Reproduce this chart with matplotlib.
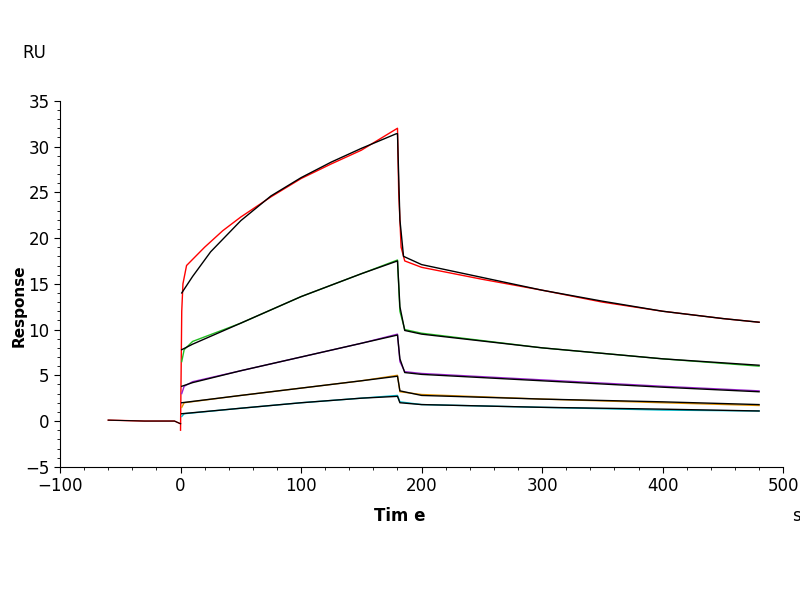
import matplotlib
matplotlib.use("Agg")
import matplotlib.pyplot as plt
from matplotlib.ticker import MultipleLocator

base_t = [-60, -30, -5, 0]
base_v = [0.1, 0.0, 0.0, -0.3]

red_t = [0, 1, 2, 5, 20, 35, 50, 75, 100, 125, 150, 180, 181, 183, 186, 200, 250, 300, 350, 400, 450, 480]
red_v = [-1.0, 12, 15, 17, 19, 20.8, 22.3, 24.5, 26.5, 28.1, 29.6, 32, 25, 19, 17.5, 16.8, 15.5, 14.3, 13, 12, 11.2, 10.8]
redfit_t = [1, 10, 25, 50, 75, 100, 125, 150, 179, 180, 182, 185, 200, 250, 300, 350, 400, 450, 480]
redfit_v = [14, 15.8, 18.5, 21.9, 24.6, 26.6, 28.3, 29.8, 31.4, 31.4, 22, 18, 17.1, 15.7, 14.3, 13.1, 12, 11.2, 10.8]

green_t = [1, 3, 10, 50, 100, 150, 180, 182, 186, 200, 300, 400, 480]
green_v = [6.5, 7.8, 8.7, 10.7, 13.6, 16.1, 17.6, 12, 10, 9.6, 8.0, 6.8, 6.0]
greenfit_t = [1, 10, 50, 100, 150, 180, 182, 186, 200, 300, 400, 480]
greenfit_v = [7.8, 8.4, 10.7, 13.6, 16.1, 17.5, 12.5, 9.9, 9.5, 8.0, 6.8, 6.1]

purple_t = [1, 3, 10, 50, 100, 150, 180, 182, 186, 200, 300, 400, 480]
purple_v = [3.0, 3.8, 4.3, 5.5, 7.0, 8.5, 9.5, 6.5, 5.4, 5.2, 4.5, 3.8, 3.3]
purplefit_t = [1, 10, 50, 100, 150, 180, 182, 186, 200, 300, 400, 480]
purplefit_v = [3.8, 4.2, 5.5, 7.0, 8.5, 9.4, 6.8, 5.3, 5.1, 4.4, 3.7, 3.2]

orange_t = [1, 3, 50, 100, 150, 180, 182, 200, 300, 400, 480]
orange_v = [1.5, 2.0, 2.8, 3.6, 4.4, 5.0, 3.2, 2.9, 2.4, 2.0, 1.7]
orangefit_t = [1, 50, 100, 150, 180, 182, 200, 300, 400, 480]
orangefit_v = [2.0, 2.8, 3.6, 4.4, 4.9, 3.3, 2.8, 2.4, 2.1, 1.8]

cyan_t = [1, 3, 50, 100, 150, 180, 182, 200, 300, 400, 480]
cyan_v = [0.5, 0.8, 1.4, 2.0, 2.5, 2.8, 2.1, 1.8, 1.5, 1.2, 1.1]
cyanfit_t = [1, 50, 100, 150, 180, 182, 200, 300, 400, 480]
cyanfit_v = [0.8, 1.4, 2.0, 2.5, 2.7, 2.0, 1.8, 1.5, 1.3, 1.1]

fig = plt.figure(figsize=(8, 6), dpi=100)
ax = fig.add_axes([0.075, 0.222, 0.904, 0.61])
for t, v, c in [(base_t, base_v, "red"), (red_t, red_v, "red"), (green_t, green_v, "#22bb22"),
                (purple_t, purple_v, "#9922cc"), (orange_t, orange_v, "#e09000"),
                (cyan_t, cyan_v, "#00bbcc")]:
    ax.plot(t, v, color=c, lw=1)
ax.plot(base_t, base_v, color="black", lw=0.8)
for t, v in [(redfit_t, redfit_v), (greenfit_t, greenfit_v), (purplefit_t, purplefit_v),
             (orangefit_t, orangefit_v), (cyanfit_t, cyanfit_v)]:
    ax.plot(t, v, color="black", lw=1)

ax.set_xlim(-100, 500)
ax.set_ylim(-5, 35)
ax.set_xticks(range(-100, 501, 100))
ax.set_yticks(range(-5, 36, 5))
ax.xaxis.set_minor_locator(MultipleLocator(20))
ax.yaxis.set_minor_locator(MultipleLocator(1))
ax.spines["top"].set_visible(False)
ax.spines["right"].set_visible(False)
ax.tick_params(labelsize=12, length=4)
ax.tick_params(which="minor", length=2)
fig.text(0.028, 0.903, "RU", fontsize=12)
fig.text(0.015, 0.49, "Response", rotation=90, fontsize=11, fontweight="bold", va="center")
fig.text(0.5, 0.132, "Tim e", fontsize=12, fontweight="bold", ha="center")
fig.text(0.99, 0.132, "s", fontsize=12)
fig.savefig("out.png", dpi=100)
